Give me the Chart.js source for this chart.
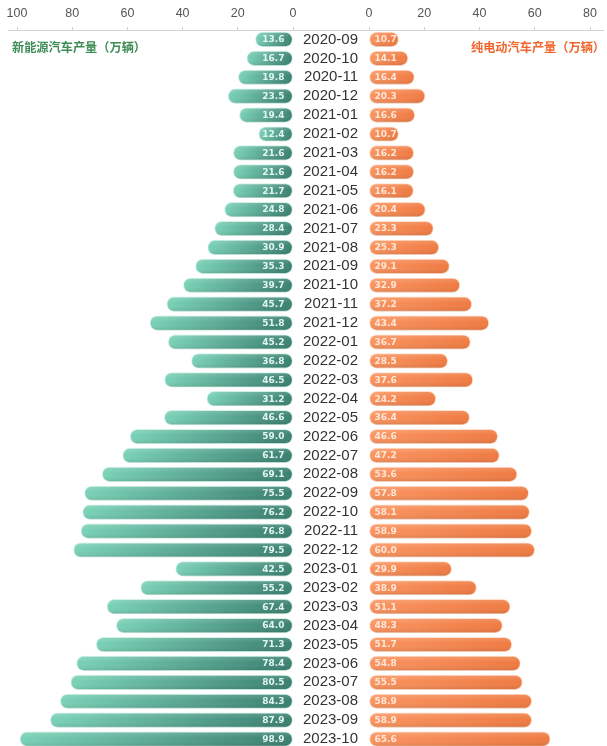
<!DOCTYPE html>
<html>
<head>
<meta charset="utf-8">
<script src="https://cdn.jsdelivr.net/npm/chart.js@4.4.1/dist/chart.umd.min.js"></script>
<style>
  html, body { margin:0; padding:0; background:#fff; overflow:hidden; }
  #wrap { position:relative; width:607px; height:746px; overflow:hidden; background:#fff; }
  canvas { position:absolute; top:0; }
  #axisline { position:absolute; left:8px; width:596px; top:30px; height:1px; background:#d4d4d4; }
  .legend { position:absolute; top:39px; font-family:"Noto Sans CJK SC", sans-serif; font-size:12.2px; font-weight:bold; white-space:nowrap; line-height:16px; }
</style>
</head>
<body>
<div id="wrap">
  <div id="axisline"></div>
  <canvas id="left" width="300" height="750" style="left:0px;width:300px;height:750px;"></canvas>
  <canvas id="right" width="314" height="750" style="left:293px;width:314px;height:750px;"></canvas>
  <div class="legend" style="left:12px;color:#3f8c55;">新能源汽车产量（万辆）</div>
  <div class="legend" style="left:471px;color:#f0672e;">纯电动汽车产量（万辆）</div>
</div>
<script>
const months = ["2020-09","2020-10","2020-11","2020-12","2021-01","2021-02","2021-03","2021-04","2021-05","2021-06","2021-07","2021-08","2021-09","2021-10","2021-11","2021-12","2022-01","2022-02","2022-03","2022-04","2022-05","2022-06","2022-07","2022-08","2022-09","2022-10","2022-11","2022-12","2023-01","2023-02","2023-03","2023-04","2023-05","2023-06","2023-07","2023-08","2023-09","2023-10"];
const nevOutput = [13.6,16.7,19.8,23.5,19.4,12.4,21.6,21.6,21.7,24.8,28.4,30.9,35.3,39.7,45.7,51.8,45.2,36.8,46.5,31.2,46.6,59.0,61.7,69.1,75.5,76.2,76.8,79.5,42.5,55.2,67.4,64.0,71.3,78.4,80.5,84.3,87.9,98.9];
const bevOutput = [10.7,14.1,16.4,20.3,16.6,10.7,16.2,16.2,16.1,20.4,23.3,25.3,29.1,32.9,37.2,43.4,36.7,28.5,37.6,24.2,36.4,46.6,47.2,53.6,57.8,58.1,58.9,60.0,29.9,38.9,51.1,48.3,51.7,54.8,55.5,58.9,58.9,65.6];
const leftTicks = [0,20,40,60,80,100];
const rightTicks = [0,20,40,60,80];
const nevLabel = "新能源汽车产量（万辆）";
const bevLabel = "纯电动汽车产量（万辆）";

const tickFont = { family: "'Liberation Sans', Arial, sans-serif", size: 12.5 };

function barGradient(c0, c1) {
  return function(ctx) {
    const chart = ctx.chart;
    if (ctx.type !== 'data' || !chart.chartArea || !chart.scales.x) return c0;
    const xs = chart.scales.x;
    const p0 = xs.getPixelForValue(0);
    const p1 = xs.getPixelForValue(ctx.raw);
    if (!isFinite(p0) || !isFinite(p1) || p0 === p1) return c0;
    const g = chart.ctx.createLinearGradient(p0, 0, p1, 0);
    g.addColorStop(0, c0);
    g.addColorStop(1, c1);
    return g;
  };
}

function labelPlugin(side, color) {
  return {
    id: 'vlabels_' + side,
    afterDatasetsDraw(chart) {
      const c = chart.ctx;
      const meta = chart.getDatasetMeta(0);
      c.save();
      c.font = "bold 9px 'DejaVu Sans', sans-serif";
      c.fillStyle = color;
      c.textBaseline = 'middle';
      meta.data.forEach((el, i) => {
        const v = chart.data.datasets[0].data[i];
        const txt = v.toFixed(1);
        if (side === 'left') {
          c.textAlign = 'right';
          c.fillText(txt, el.base - 8, el.y + 0.5);
        } else {
          c.textAlign = 'left';
          c.fillText(txt, el.base + 5, el.y + 0.5);
        }
      });
      c.restore();
    }
  };
}

function shadePlugin(id) {
  return {
    id: id,
    afterDatasetsDraw(chart) {
      const c = chart.ctx;
      const meta = chart.getDatasetMeta(0);
      c.save();
      meta.data.forEach(el => {
        const h = el.height;
        const x0 = Math.min(el.x, el.base), x1 = Math.max(el.x, el.base);
        const top = el.y - h / 2;
        const r = h / 2;
        c.beginPath();
        c.roundRect(x0, top, x1 - x0, h, r);
        const g = c.createLinearGradient(0, top, 0, top + h);
        g.addColorStop(0, 'rgba(255,255,255,0.16)');
        g.addColorStop(0.45, 'rgba(255,255,255,0.0)');
        g.addColorStop(1, 'rgba(0,0,0,0.10)');
        c.fillStyle = g;
        c.fill();
      });
      c.restore();
    }
  };
}

function xAxis(max, reverse, ticksList) {
  return {
    type: 'linear',
    position: 'top',
    min: 0,
    max: max,
    reverse: reverse,
    afterBuildTicks(s) { s.ticks = ticksList.map(v => ({ value: v })); },
    ticks: { padding: 6, font: tickFont, color: '#555' },
    grid: { drawOnChartArea: false, drawTicks: true, tickLength: 3, color: '#cfcfcf' },
    border: { display: false },
    afterFit(s) { s.height = 30; }
  };
}

new Chart(document.getElementById('left'), {
  type: 'bar',
  data: {
    labels: months,
    datasets: [{
      label: nevLabel,
      data: nevOutput,
      backgroundColor: barGradient('#3a7f70', '#7ad2b7'),
      borderColor: 'rgba(200,238,225,0.9)',
      borderWidth: 1,
      borderRadius: 8,
      borderSkipped: false,
      barThickness: 14.5
    }]
  },
  options: {
    indexAxis: 'y',
    responsive: false,
    animation: false,
    layout: { padding: { left: 17, right: 7, top: 0, bottom: 1.5 } },
    plugins: { legend: { display: false }, tooltip: { enabled: false } },
    scales: {
      x: xAxis(100, true, leftTicks),
      y: { type: 'category', display: false }
    }
  },
  plugins: [shadePlugin('shadeL'), labelPlugin('left', 'rgba(235,250,245,0.95)')]
});

new Chart(document.getElementById('right'), {
  type: 'bar',
  data: {
    labels: months,
    datasets: [{
      label: bevLabel,
      data: bevOutput,
      backgroundColor: barGradient('#fa9460', '#ef7a42'),
      borderColor: 'rgba(255,215,190,0.9)',
      borderWidth: 1,
      borderRadius: 8,
      borderSkipped: false,
      barThickness: 14.5
    }]
  },
  options: {
    indexAxis: 'y',
    responsive: false,
    animation: false,
    layout: { padding: { left: 0, right: 17, top: 0, bottom: 1.5 } },
    plugins: { legend: { display: false }, tooltip: { enabled: false } },
    scales: {
      x: xAxis(80, false, rightTicks),
      y: {
        type: 'category',
        position: 'left',
        ticks: { autoSkip: false, padding: 11, font: { family: "'Liberation Sans', Arial, sans-serif", size: 15, lineHeight: 1 }, color: '#333' },
        grid: { display: false, drawTicks: false },
        border: { display: false },
        afterFit(s) { s.width = 76; s.paddingTop = 0; s.paddingBottom = 0; }
      }
    }
  },
  plugins: [shadePlugin('shadeR'), labelPlugin('right', 'rgba(255,235,222,0.95)')]
});
</script>
</body>
</html>
